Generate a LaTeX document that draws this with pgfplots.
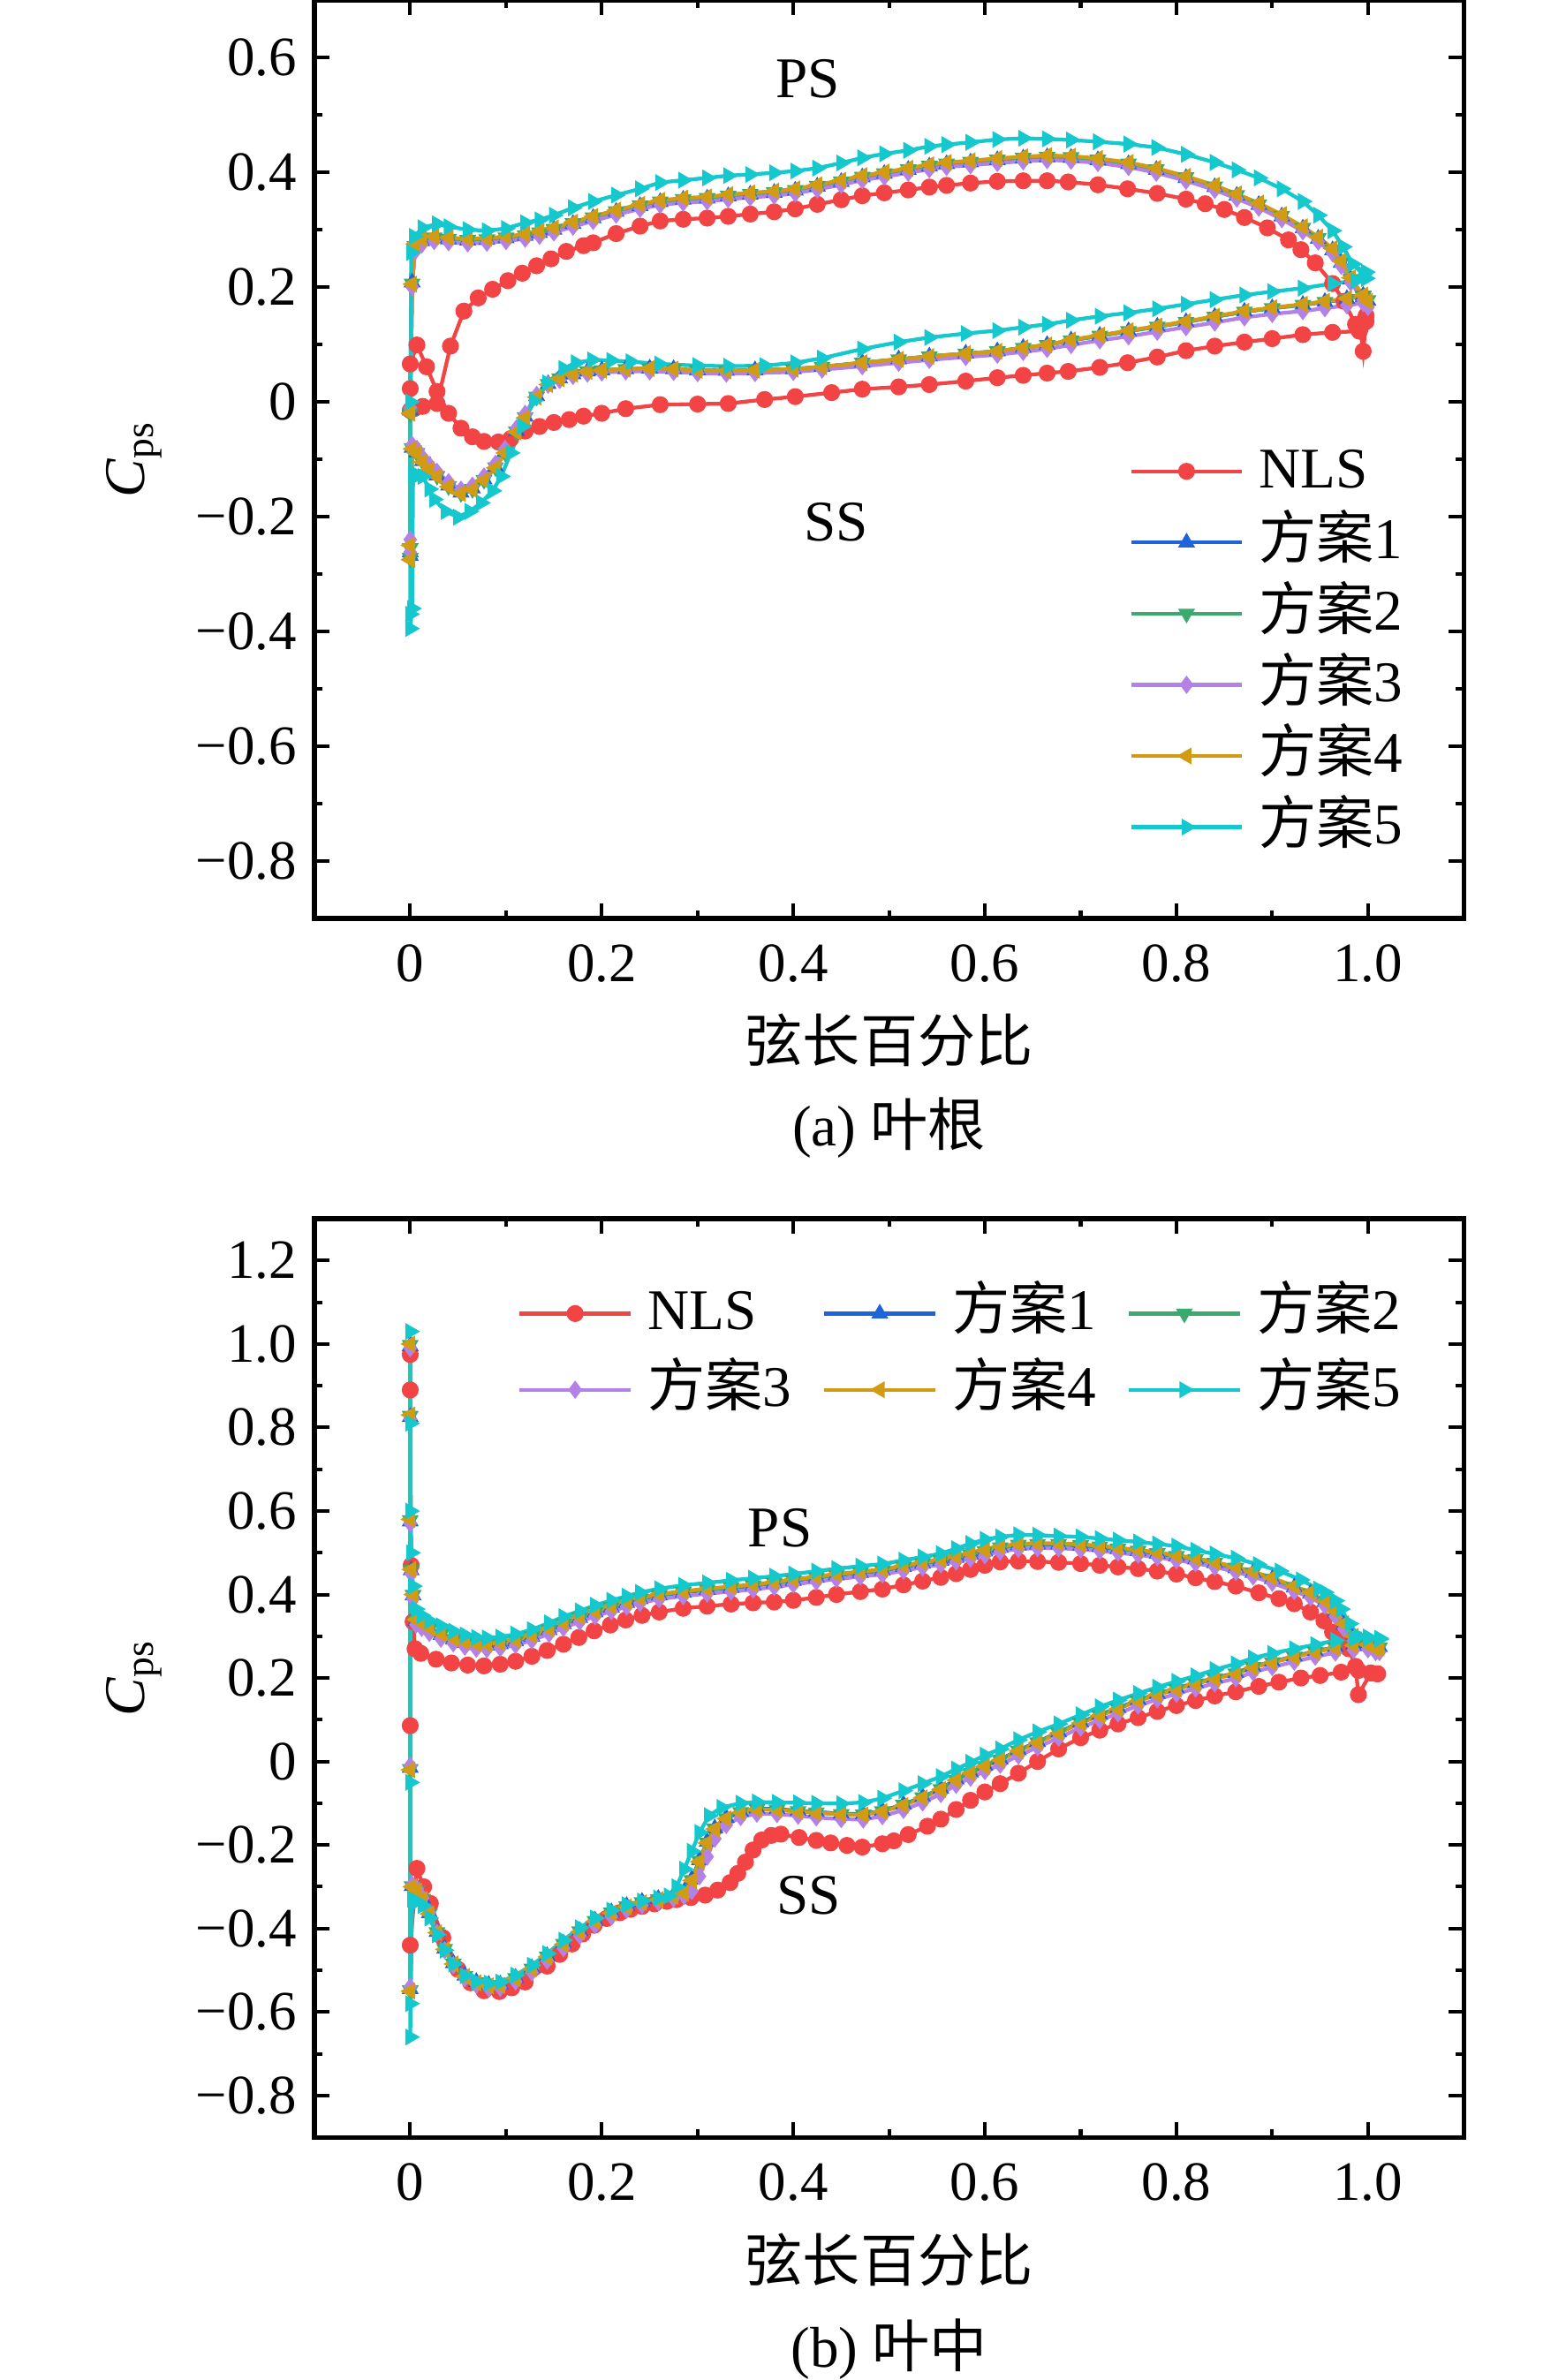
\documentclass[border=0pt]{standalone}
\usepackage{fontspec}
\setmainfont{Liberation Serif}
\newfontfamily\cjk{Noto Sans CJK SC}
\usepackage{pgfplots}
\usepackage{pgfplotstable}
\pgfplotsset{compat=1.18}

\definecolor{cNLS}{RGB}{242,68,68}
\definecolor{cA}{RGB}{31,99,219}
\definecolor{cB}{RGB}{59,170,110}
\definecolor{cC}{RGB}{180,130,230}
\definecolor{cD}{RGB}{210,155,20}
\definecolor{cE}{RGB}{20,200,205}

% ---------------- (a) root ----------------
\pgfplotstableread{
x y
0.998 0.140
0.995 0.088
0.992 0.128
0.987 0.135
0.975 0.175
0.963 0.206
0.945 0.242
0.930 0.265
0.917 0.282
0.895 0.303
0.871 0.321
0.850 0.335
0.830 0.345
0.810 0.353
0.780 0.363
0.749 0.371
0.718 0.378
0.687 0.383
0.665 0.385
0.640 0.385
0.613 0.384
0.585 0.381
0.560 0.377
0.542 0.374
0.520 0.369
0.495 0.364
0.472 0.359
0.450 0.352
0.425 0.344
0.402 0.336
0.380 0.331
0.355 0.327
0.332 0.323
0.310 0.320
0.285 0.318
0.261 0.315
0.240 0.306
0.215 0.293
0.191 0.277
0.181 0.272
0.163 0.262
0.147 0.249
0.132 0.237
0.117 0.224
0.102 0.211
0.086 0.196
0.071 0.181
0.056 0.158
0.042 0.097
0.028 -0.003
0.013 -0.008
0.004 -0.012
0.000 -0.015
0.000 0.023
0.000 0.066
0.007 0.099
0.017 0.061
0.028 0.018
0.040 -0.020
0.053 -0.046
0.065 -0.061
0.077 -0.069
0.092 -0.070
0.105 -0.064
0.120 -0.051
0.135 -0.043
0.150 -0.036
0.166 -0.031
0.181 -0.025
0.200 -0.020
0.225 -0.012
0.261 -0.005
0.300 -0.004
0.332 -0.003
0.370 0.004
0.402 0.009
0.440 0.016
0.472 0.022
0.510 0.026
0.542 0.030
0.580 0.036
0.613 0.042
0.640 0.046
0.665 0.050
0.687 0.053
0.720 0.060
0.749 0.068
0.780 0.078
0.810 0.089
0.840 0.097
0.871 0.104
0.900 0.110
0.932 0.117
0.963 0.121
0.991 0.123
0.998 0.150
}\aNLS

\pgfplotstableread{
x a1 a2 a3 a4
0.995 0.182 0.183 0.177 0.185
0.982 0.213 0.214 0.208 0.216
0.972 0.242 0.243 0.237 0.245
0.963 0.264 0.265 0.259 0.267
0.948 0.284 0.285 0.279 0.287
0.932 0.302 0.303 0.297 0.305
0.910 0.323 0.324 0.318 0.326
0.886 0.343 0.344 0.338 0.346
0.863 0.359 0.360 0.354 0.362
0.840 0.374 0.375 0.369 0.377
0.810 0.390 0.391 0.385 0.393
0.779 0.404 0.405 0.399 0.407
0.750 0.414 0.415 0.409 0.417
0.718 0.421 0.422 0.416 0.424
0.690 0.425 0.426 0.420 0.428
0.665 0.426 0.427 0.421 0.429
0.640 0.424 0.425 0.419 0.427
0.613 0.421 0.422 0.416 0.424
0.585 0.417 0.418 0.412 0.420
0.560 0.414 0.415 0.409 0.417
0.542 0.410 0.411 0.405 0.413
0.520 0.404 0.405 0.399 0.407
0.495 0.397 0.398 0.392 0.400
0.472 0.391 0.392 0.386 0.394
0.450 0.383 0.384 0.378 0.386
0.425 0.375 0.376 0.370 0.378
0.402 0.368 0.369 0.363 0.371
0.380 0.364 0.365 0.359 0.367
0.355 0.361 0.362 0.356 0.364
0.332 0.358 0.359 0.353 0.361
0.310 0.354 0.355 0.349 0.357
0.285 0.352 0.353 0.347 0.355
0.261 0.348 0.349 0.343 0.351
0.240 0.341 0.342 0.336 0.344
0.215 0.331 0.332 0.326 0.334
0.191 0.320 0.321 0.315 0.323
0.170 0.310 0.311 0.305 0.313
0.150 0.300 0.301 0.295 0.303
0.135 0.294 0.295 0.289 0.297
0.120 0.289 0.290 0.284 0.292
0.100 0.285 0.286 0.280 0.288
0.080 0.282 0.283 0.277 0.285
0.060 0.281 0.282 0.276 0.284
0.040 0.283 0.284 0.278 0.286
0.025 0.285 0.286 0.280 0.288
0.012 0.280 0.281 0.274 0.284
0.005 0.270 0.271 0.262 0.275
0.002 0.208 0.206 0.200 0.205
0.000 -0.015 -0.020 -0.010 -0.020
0.000 -0.262 -0.255 -0.240 -0.250
0.000 -0.268 -0.272 -0.262 -0.275
0.002 -0.080 -0.081 -0.075 -0.082
0.007 -0.088 -0.089 -0.082 -0.090
0.013 -0.103 -0.104 -0.097 -0.105
0.020 -0.116 -0.117 -0.110 -0.118
0.028 -0.128 -0.129 -0.122 -0.130
0.040 -0.146 -0.147 -0.140 -0.148
0.053 -0.158 -0.159 -0.153 -0.160
0.065 -0.151 -0.152 -0.146 -0.153
0.077 -0.135 -0.136 -0.130 -0.137
0.089 -0.113 -0.114 -0.108 -0.115
0.099 -0.087 -0.088 -0.082 -0.089
0.111 -0.051 -0.052 -0.046 -0.053
0.120 -0.026 -0.027 -0.021 -0.028
0.132 0.010 0.009 0.012 0.008
0.144 0.031 0.031 0.030 0.030
0.156 0.041 0.041 0.038 0.040
0.170 0.048 0.048 0.045 0.048
0.185 0.053 0.053 0.049 0.053
0.200 0.055 0.055 0.051 0.055
0.225 0.057 0.057 0.053 0.057
0.250 0.058 0.058 0.053 0.058
0.275 0.057 0.057 0.052 0.057
0.300 0.055 0.055 0.050 0.055
0.330 0.054 0.054 0.049 0.054
0.360 0.055 0.055 0.050 0.055
0.400 0.057 0.057 0.052 0.057
0.430 0.061 0.061 0.056 0.061
0.472 0.068 0.068 0.062 0.068
0.510 0.074 0.074 0.068 0.074
0.542 0.079 0.079 0.073 0.079
0.580 0.084 0.084 0.078 0.084
0.613 0.088 0.088 0.082 0.088
0.640 0.094 0.094 0.087 0.094
0.665 0.099 0.099 0.092 0.099
0.690 0.107 0.107 0.099 0.108
0.720 0.115 0.115 0.107 0.116
0.750 0.123 0.123 0.114 0.124
0.780 0.131 0.131 0.122 0.132
0.810 0.139 0.139 0.130 0.140
0.840 0.148 0.148 0.138 0.149
0.871 0.157 0.157 0.147 0.158
0.900 0.163 0.163 0.153 0.164
0.932 0.169 0.169 0.158 0.170
0.955 0.174 0.174 0.163 0.175
0.978 0.179 0.179 0.168 0.180
0.995 0.185 0.185 0.172 0.186
1.000 0.176 0.177 0.165 0.175
}\aS

\pgfplotstableread{
x y
0.998 0.226
0.995 0.222
0.984 0.240
0.974 0.270
0.963 0.298
0.948 0.325
0.932 0.349
0.910 0.371
0.886 0.390
0.863 0.404
0.840 0.417
0.810 0.431
0.779 0.443
0.750 0.449
0.718 0.453
0.690 0.456
0.665 0.458
0.640 0.459
0.613 0.457
0.585 0.452
0.560 0.448
0.542 0.445
0.520 0.438
0.495 0.432
0.472 0.425
0.450 0.416
0.425 0.407
0.402 0.402
0.380 0.399
0.355 0.396
0.332 0.394
0.310 0.390
0.285 0.386
0.261 0.382
0.240 0.371
0.215 0.360
0.191 0.349
0.170 0.338
0.150 0.325
0.135 0.317
0.120 0.312
0.100 0.302
0.080 0.298
0.060 0.300
0.040 0.305
0.028 0.310
0.013 0.303
0.004 0.288
0.001 0.260
0.000 0.000
0.000 -0.370
0.000 -0.395
0.002 -0.360
0.003 -0.125
0.008 -0.128
0.013 -0.130
0.020 -0.152
0.025 -0.170
0.037 -0.191
0.050 -0.201
0.062 -0.191
0.074 -0.176
0.086 -0.155
0.095 -0.130
0.105 -0.089
0.117 -0.043
0.129 0.002
0.143 0.033
0.160 0.058
0.173 0.068
0.190 0.073
0.210 0.072
0.230 0.070
0.260 0.066
0.300 0.063
0.332 0.062
0.370 0.063
0.402 0.068
0.430 0.076
0.472 0.092
0.510 0.104
0.542 0.112
0.580 0.119
0.613 0.124
0.640 0.130
0.665 0.135
0.690 0.142
0.720 0.149
0.750 0.155
0.780 0.162
0.810 0.170
0.840 0.178
0.871 0.186
0.900 0.192
0.932 0.198
0.963 0.206
0.987 0.211
0.998 0.215
}\aE

% ---------------- (b) mid ----------------
\pgfplotstableread{
x y
1.010 0.210
1.003 0.212
0.990 0.160
0.987 0.228
0.980 0.270
0.972 0.293
0.963 0.310
0.954 0.337
0.940 0.358
0.923 0.378
0.907 0.390
0.886 0.404
0.862 0.420
0.840 0.431
0.820 0.440
0.800 0.449
0.780 0.456
0.760 0.462
0.739 0.466
0.720 0.470
0.700 0.474
0.677 0.477
0.655 0.479
0.635 0.480
0.616 0.478
0.600 0.470
0.585 0.460
0.570 0.450
0.554 0.441
0.535 0.432
0.515 0.423
0.493 0.413
0.470 0.407
0.445 0.400
0.424 0.393
0.400 0.386
0.380 0.382
0.358 0.380
0.335 0.377
0.310 0.372
0.285 0.367
0.260 0.358
0.242 0.350
0.225 0.339
0.209 0.327
0.192 0.313
0.176 0.297
0.160 0.281
0.143 0.266
0.127 0.252
0.110 0.240
0.094 0.233
0.077 0.229
0.060 0.231
0.043 0.236
0.027 0.245
0.011 0.259
0.005 0.270
0.003 0.335
0.001 0.470
0.000 0.890
0.000 0.975
0.000 0.086
0.000 -0.440
0.007 -0.256
0.014 -0.300
0.021 -0.340
0.034 -0.422
0.050 -0.498
0.063 -0.530
0.077 -0.549
0.093 -0.551
0.106 -0.542
0.120 -0.528
0.143 -0.490
0.156 -0.462
0.169 -0.437
0.180 -0.413
0.192 -0.392
0.205 -0.376
0.219 -0.362
0.230 -0.354
0.242 -0.347
0.255 -0.341
0.268 -0.335
0.278 -0.331
0.293 -0.326
0.308 -0.320
0.321 -0.308
0.334 -0.290
0.342 -0.268
0.350 -0.241
0.358 -0.212
0.367 -0.188
0.377 -0.177
0.387 -0.174
0.406 -0.182
0.424 -0.189
0.439 -0.195
0.456 -0.201
0.472 -0.205
0.493 -0.197
0.505 -0.190
0.520 -0.175
0.540 -0.155
0.554 -0.138
0.570 -0.115
0.585 -0.093
0.600 -0.073
0.616 -0.053
0.635 -0.028
0.655 0.000
0.677 0.030
0.700 0.057
0.720 0.075
0.739 0.090
0.760 0.105
0.780 0.120
0.800 0.134
0.820 0.146
0.840 0.157
0.862 0.167
0.886 0.180
0.907 0.190
0.930 0.200
0.950 0.206
0.972 0.214
0.990 0.218
1.003 0.212
1.010 0.210
}\bNLS

\pgfplotstableread{
x a1 a2 a3 a4
1.008 0.268 0.269 0.262 0.270
1.000 0.278 0.279 0.270 0.280
0.985 0.298 0.299 0.290 0.300
0.975 0.327 0.328 0.318 0.330
0.966 0.357 0.358 0.348 0.360
0.955 0.382 0.383 0.373 0.385
0.940 0.402 0.403 0.393 0.405
0.923 0.417 0.418 0.408 0.420
0.900 0.437 0.438 0.428 0.440
0.880 0.452 0.453 0.443 0.455
0.862 0.463 0.464 0.454 0.466
0.840 0.475 0.476 0.466 0.478
0.820 0.484 0.485 0.475 0.487
0.800 0.491 0.492 0.482 0.494
0.780 0.498 0.499 0.489 0.501
0.760 0.504 0.505 0.495 0.507
0.739 0.509 0.510 0.500 0.512
0.720 0.514 0.515 0.505 0.517
0.700 0.517 0.518 0.508 0.520
0.677 0.520 0.521 0.511 0.523
0.655 0.520 0.521 0.511 0.523
0.635 0.518 0.519 0.509 0.521
0.616 0.512 0.513 0.503 0.515
0.600 0.503 0.504 0.494 0.506
0.585 0.495 0.496 0.486 0.498
0.570 0.488 0.489 0.479 0.491
0.554 0.481 0.482 0.472 0.484
0.535 0.474 0.475 0.465 0.477
0.515 0.466 0.467 0.457 0.469
0.493 0.457 0.458 0.448 0.460
0.470 0.452 0.453 0.443 0.455
0.445 0.446 0.447 0.437 0.449
0.424 0.440 0.441 0.431 0.443
0.400 0.433 0.434 0.424 0.436
0.380 0.427 0.428 0.418 0.430
0.358 0.421 0.422 0.412 0.424
0.335 0.416 0.417 0.407 0.419
0.310 0.411 0.412 0.402 0.414
0.285 0.405 0.406 0.396 0.408
0.260 0.398 0.399 0.389 0.401
0.240 0.389 0.390 0.380 0.392
0.226 0.380 0.381 0.371 0.383
0.210 0.369 0.370 0.360 0.372
0.193 0.357 0.358 0.348 0.360
0.177 0.344 0.345 0.335 0.347
0.160 0.329 0.330 0.320 0.332
0.145 0.315 0.316 0.306 0.318
0.127 0.299 0.300 0.290 0.302
0.110 0.288 0.289 0.279 0.291
0.094 0.281 0.282 0.272 0.284
0.080 0.278 0.279 0.269 0.281
0.069 0.279 0.280 0.270 0.282
0.057 0.284 0.285 0.275 0.287
0.045 0.292 0.293 0.283 0.295
0.032 0.303 0.304 0.294 0.306
0.020 0.317 0.318 0.308 0.320
0.012 0.329 0.330 0.320 0.332
0.006 0.337 0.338 0.328 0.340
0.003 0.398 0.399 0.390 0.400
0.001 0.458 0.459 0.450 0.460
0.000 0.575 0.578 0.570 0.580
0.000 0.825 0.828 0.820 0.830
0.000 0.995 0.998 0.990 1.000
0.000 -0.015 -0.018 -0.010 -0.020
0.000 -0.545 -0.548 -0.540 -0.550
0.002 -0.298 -0.299 -0.295 -0.300
0.007 -0.308 -0.309 -0.305 -0.310
0.013 -0.328 -0.329 -0.327 -0.330
0.020 -0.363 -0.364 -0.363 -0.365
0.028 -0.408 -0.409 -0.410 -0.410
0.036 -0.448 -0.449 -0.452 -0.450
0.045 -0.483 -0.484 -0.488 -0.485
0.057 -0.513 -0.514 -0.519 -0.515
0.069 -0.528 -0.529 -0.535 -0.530
0.082 -0.535 -0.536 -0.543 -0.537
0.094 -0.534 -0.535 -0.542 -0.536
0.110 -0.518 -0.519 -0.527 -0.520
0.127 -0.495 -0.496 -0.505 -0.497
0.143 -0.466 -0.467 -0.477 -0.468
0.160 -0.436 -0.437 -0.447 -0.438
0.177 -0.406 -0.407 -0.417 -0.408
0.193 -0.381 -0.382 -0.392 -0.383
0.210 -0.361 -0.362 -0.371 -0.363
0.226 -0.346 -0.347 -0.355 -0.348
0.242 -0.336 -0.337 -0.344 -0.338
0.259 -0.329 -0.330 -0.336 -0.331
0.275 -0.321 -0.322 -0.328 -0.323
0.286 -0.312 -0.314 -0.322 -0.315
0.294 -0.282 -0.284 -0.310 -0.285
0.302 -0.236 -0.238 -0.275 -0.240
0.310 -0.192 -0.194 -0.228 -0.195
0.318 -0.160 -0.161 -0.185 -0.162
0.330 -0.135 -0.136 -0.152 -0.137
0.345 -0.120 -0.121 -0.133 -0.122
0.362 -0.113 -0.114 -0.125 -0.115
0.383 -0.114 -0.115 -0.126 -0.116
0.405 -0.118 -0.119 -0.130 -0.120
0.424 -0.121 -0.122 -0.134 -0.123
0.450 -0.125 -0.126 -0.138 -0.127
0.473 -0.126 -0.127 -0.139 -0.128
0.493 -0.118 -0.119 -0.131 -0.120
0.515 -0.103 -0.104 -0.116 -0.105
0.535 -0.085 -0.086 -0.098 -0.087
0.554 -0.065 -0.066 -0.078 -0.067
0.570 -0.043 -0.044 -0.056 -0.045
0.585 -0.026 -0.027 -0.039 -0.028
0.600 -0.010 -0.011 -0.023 -0.012
0.616 0.005 0.004 -0.008 0.003
0.635 0.027 0.026 0.014 0.025
0.655 0.047 0.046 0.034 0.045
0.677 0.070 0.069 0.057 0.068
0.700 0.094 0.093 0.081 0.092
0.720 0.112 0.111 0.099 0.110
0.739 0.128 0.127 0.115 0.126
0.760 0.147 0.146 0.134 0.145
0.780 0.162 0.161 0.149 0.160
0.800 0.175 0.174 0.162 0.173
0.820 0.188 0.187 0.175 0.186
0.840 0.200 0.199 0.187 0.198
0.862 0.212 0.211 0.199 0.210
0.880 0.227 0.226 0.214 0.225
0.900 0.239 0.238 0.226 0.237
0.923 0.252 0.251 0.239 0.250
0.945 0.264 0.263 0.251 0.262
0.966 0.274 0.273 0.261 0.272
0.985 0.280 0.279 0.267 0.278
1.000 0.282 0.281 0.269 0.280
1.012 0.274 0.273 0.262 0.272
}\bS

\pgfplotstableread{
x y
1.012 0.293
1.000 0.295
0.990 0.300
0.981 0.330
0.972 0.365
0.966 0.385
0.955 0.405
0.948 0.413
0.930 0.435
0.908 0.456
0.885 0.472
0.862 0.487
0.840 0.497
0.820 0.506
0.800 0.516
0.780 0.521
0.760 0.526
0.739 0.530
0.720 0.534
0.700 0.538
0.677 0.540
0.655 0.542
0.635 0.543
0.616 0.538
0.600 0.532
0.585 0.522
0.570 0.510
0.554 0.498
0.535 0.490
0.515 0.482
0.493 0.473
0.470 0.468
0.445 0.462
0.424 0.456
0.400 0.449
0.380 0.444
0.358 0.439
0.335 0.434
0.310 0.428
0.285 0.422
0.260 0.414
0.240 0.405
0.226 0.396
0.210 0.386
0.193 0.374
0.177 0.361
0.160 0.347
0.145 0.332
0.127 0.316
0.110 0.305
0.094 0.298
0.080 0.296
0.069 0.297
0.057 0.303
0.045 0.312
0.032 0.325
0.020 0.337
0.012 0.350
0.006 0.365
0.003 0.420
0.001 0.500
0.000 0.600
0.000 0.810
0.000 1.030
0.000 -0.050
0.000 -0.580
0.000 -0.660
0.002 -0.330
0.007 -0.335
0.013 -0.345
0.020 -0.375
0.028 -0.415
0.036 -0.452
0.045 -0.485
0.057 -0.513
0.069 -0.527
0.082 -0.531
0.094 -0.528
0.110 -0.512
0.127 -0.488
0.143 -0.460
0.160 -0.428
0.177 -0.398
0.193 -0.375
0.210 -0.356
0.226 -0.343
0.242 -0.334
0.259 -0.327
0.270 -0.322
0.278 -0.300
0.286 -0.258
0.294 -0.215
0.302 -0.170
0.312 -0.130
0.325 -0.110
0.345 -0.100
0.362 -0.097
0.383 -0.098
0.405 -0.099
0.424 -0.100
0.450 -0.101
0.473 -0.098
0.493 -0.088
0.515 -0.070
0.535 -0.053
0.554 -0.036
0.570 -0.018
0.585 -0.002
0.600 0.015
0.616 0.030
0.635 0.052
0.655 0.071
0.677 0.090
0.700 0.112
0.720 0.131
0.739 0.147
0.760 0.163
0.780 0.178
0.800 0.192
0.820 0.205
0.840 0.220
0.862 0.234
0.880 0.248
0.900 0.259
0.923 0.270
0.945 0.280
0.966 0.290
0.985 0.295
1.000 0.298
1.012 0.295
}\bE

\pgfplotsset{
  base/.style={
    scale only axis, width=227.7pt, height=182pt,
    xmin=-0.1, xmax=1.1,
    xtick={0,0.2,0.4,0.6,0.8,1.0},
    xticklabels={0,0.2,0.4,0.6,0.8,1.0},
    minor x tick num=1, minor y tick num=1,
    tick align=inside,
    major tick length=3pt, minor tick length=1.6pt,
    every tick/.style={black, line width=0.7pt},
    axis line style={line width=0.9pt},
    tick label style={font=\fontsize{11}{13}\selectfont},
    xticklabel shift=1.6pt,
    xlabel={\cjk 弦长百分比},
    xlabel style={font=\fontsize{11.4}{13}\selectfont, at={(axis description cs:0.5,-0.133)}, anchor=center},
    ylabel={\textit{C}\textsubscript{ps}},
    ylabel style={font=\fontsize{11.4}{13}\selectfont, at={(axis description cs:-0.157,0.5)}, anchor=center},
    legend image code/.code={\draw[mark repeat=2,mark phase=2,#1] plot coordinates {(0pt,0pt) (11pt,0pt) (22pt,0pt)};},
    every axis plot/.append style={line width=0.75pt, mark size=1.2pt, mark options={solid}},
  },
  sNLS/.style={color=cNLS, mark=*, mark size=1.3pt},
  sA/.style={color=cA, mark=triangle*},
  sB/.style={color=cB, mark=triangle*, mark options={rotate=180}},
  sC/.style={color=cC, mark=diamond*},
  sD/.style={color=cD, mark=triangle*, mark options={rotate=90}},
  sE/.style={color=cE, mark=triangle*, mark options={rotate=-90}},
}

\begin{document}
\begin{tikzpicture}
\useasboundingbox (0,0) rectangle (310.1pt,471.6pt);

\begin{axis}[base, name=pa, at={(62.3pt,289.6pt)}, anchor=south west,
  ymin=-0.9, ymax=0.7,
  ytick={-0.8,-0.6,-0.4,-0.2,0,0.2,0.4,0.6},
  yticklabels={−0.8,−0.6,−0.4,−0.2,0,0.2,0.4,0.6},
  legend style={at={(axis description cs:0.708,0.525)}, anchor=north west, draw=none, fill=none,
    font=\fontsize{11.4}{13}\selectfont, inner sep=0pt, row sep=0.6pt,
    nodes={inner sep=1pt, text height=9pt, text depth=2.5pt, anchor=west},
    /tikz/every odd column/.style={column sep=2pt}},
  legend cell align=left]
\addplot[sNLS] table[x=x,y=y]{\aNLS};
\addplot[sA] table[x=x,y=a1]{\aS};
\addplot[sB] table[x=x,y=a2]{\aS};
\addplot[sC] table[x=x,y=a3]{\aS};
\addplot[sD] table[x=x,y=a4]{\aS};
\addplot[sE] table[x=x,y=y]{\aE};
\legend{NLS,{\cjk 方案}1,{\cjk 方案}2,{\cjk 方案}3,{\cjk 方案}4,{\cjk 方案}5}
\node[font=\fontsize{11.4}{13}\selectfont] at (axis cs:0.415,0.562) {PS};
\node[font=\fontsize{11.4}{13}\selectfont] at (axis cs:0.445,-0.21) {SS};
\end{axis}
\node[font=\fontsize{11.4}{13}\selectfont] at ([yshift=-41.4pt]pa.south) {(a) {\cjk 叶根}};

\begin{axis}[base, name=pb, at={(62.3pt,48.1pt)}, anchor=south west,
  ymin=-0.9, ymax=1.3,
  ytick={-0.8,-0.6,-0.4,-0.2,0,0.2,0.4,0.6,0.8,1.0,1.2},
  yticklabels={−0.8,−0.6,−0.4,−0.2,0,0.2,0.4,0.6,0.8,1.0,1.2},
  legend columns=3,
  legend style={at={(axis description cs:0.176,0.935)}, anchor=north west, draw=none, fill=none,
    font=\fontsize{11.4}{13}\selectfont, inner sep=0pt, row sep=1.6pt,
    nodes={inner sep=1pt, text height=9pt, text depth=2.5pt, anchor=west},
    /tikz/every odd column/.style={column sep=2pt},
    /tikz/every even column/.style={column sep=5.1pt}},
  legend cell align=left]
\addplot[sNLS] table[x=x,y=y]{\bNLS};
\addplot[sA] table[x=x,y=a1]{\bS};
\addplot[sB] table[x=x,y=a2]{\bS};
\addplot[sC] table[x=x,y=a3]{\bS};
\addplot[sD] table[x=x,y=a4]{\bS};
\addplot[sE] table[x=x,y=y]{\bE};
\legend{NLS,{\cjk 方案}1,{\cjk 方案}2,{\cjk 方案}3,{\cjk 方案}4,{\cjk 方案}5}
\node[font=\fontsize{11.4}{13}\selectfont] at (axis cs:0.386,0.56) {PS};
\node[font=\fontsize{11.4}{13}\selectfont] at (axis cs:0.416,-0.32) {SS};
\end{axis}
\node[font=\fontsize{11.4}{13}\selectfont] at ([yshift=-42pt]pb.south) {(b) {\cjk 叶中}};
\end{tikzpicture}
\end{document}
